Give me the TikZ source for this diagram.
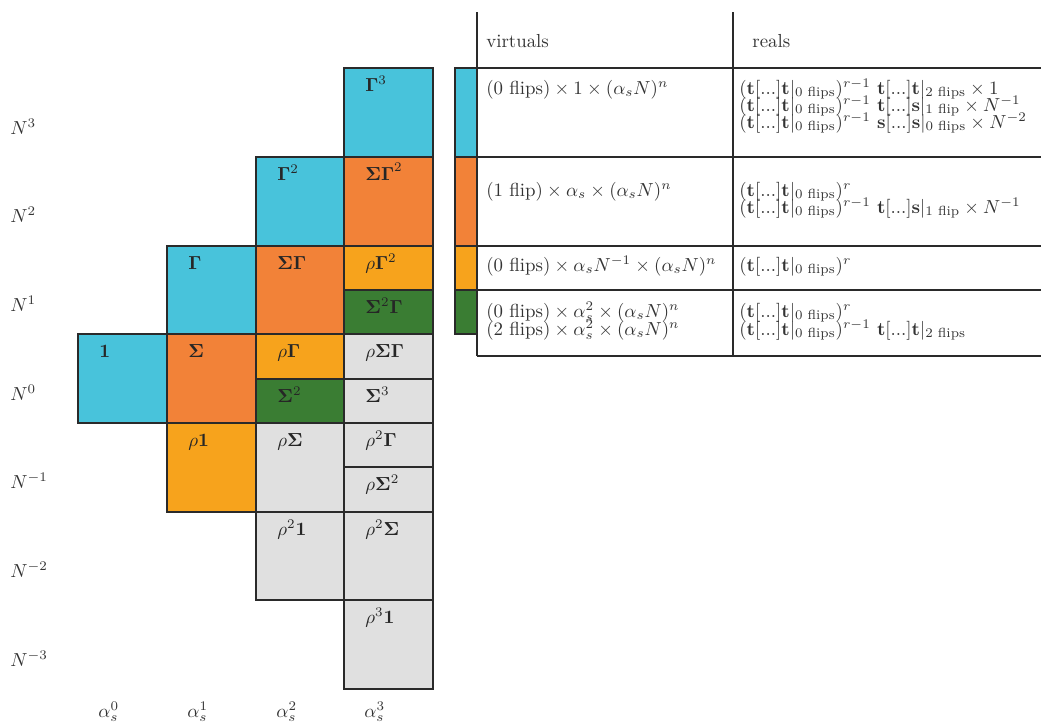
\documentclass[tikz,border=0pt]{standalone}
\usepackage{amsmath}
\definecolor{ccyan}{HTML}{48C3DB}
\definecolor{corange}{HTML}{F28238}
\definecolor{cyellow}{HTML}{F7A31C}
\definecolor{cgreen}{HTML}{3A7D33}
\definecolor{cgray}{HTML}{E0E0E0}
\definecolor{cline}{HTML}{2A2A2A}
\newcommand\TTz{(\mathbf{t}[...]\mathbf{t}|_{0\text{ flips}})}
\newcommand\bt{\mathbf{t}}
\newcommand\bs{\mathbf{s}}
\newcommand\mycell[7]{%
  \draw[cellbox, fill=#5] (#1,#2) rectangle (#3,#4);
  \node[lab] (#7) at ({#1+21},{#2+23}) {$#6$};}
\tikzset{
  cellbox/.style={draw=cline, line width=0.7pt},
  lab/.style={anchor=base west, inner sep=0pt, text=black!85},
  tabline/.style={draw=cline, line width=0.6pt},
  txt/.style={anchor=base west, inner sep=0pt, text=black!80},
}
\begin{document}
\begin{tikzpicture}[x=0.53pt,y=-0.53pt]
\useasboundingbox (0,0) rectangle (1041,722);
% column alpha^0
\mycell{78}{334}{167}{423}{ccyan}{\mathbf{1}}{c01}
% column alpha^1
\mycell{167}{246}{256}{334}{ccyan}{\mathbf{\Gamma}}{c11}
\mycell{167}{334}{256}{423}{corange}{\mathbf{\Sigma}}{c12}
\mycell{167}{423}{256}{512}{cyellow}{\rho\mathbf{1}}{c13}
% column alpha^2
\mycell{256}{157}{344}{246}{ccyan}{\mathbf{\Gamma}^2}{c21}
\mycell{256}{246}{344}{334}{corange}{\mathbf{\Sigma\Gamma}}{c22}
\mycell{256}{334}{344}{379}{cyellow}{\rho\mathbf{\Gamma}}{c23}
\mycell{256}{379}{344}{423}{cgreen}{\mathbf{\Sigma}^2}{c24}
\mycell{256}{423}{344}{512}{cgray}{\rho\mathbf{\Sigma}}{c25}
\mycell{256}{512}{344}{600}{cgray}{\rho^2\mathbf{1}}{c26}
% column alpha^3
\mycell{344}{68}{433}{157}{ccyan}{\mathbf{\Gamma}^3}{c31}
\mycell{344}{157}{433}{246}{corange}{\mathbf{\Sigma\Gamma}^2}{c32}
\mycell{344}{246}{433}{290}{cyellow}{\rho\mathbf{\Gamma}^2}{c33}
\mycell{344}{290}{433}{334}{cgreen}{\mathbf{\Sigma}^2\mathbf{\Gamma}}{c34}
\mycell{344}{334}{433}{379}{cgray}{\rho\mathbf{\Sigma\Gamma}}{c35}
\mycell{344}{379}{433}{423}{cgray}{\mathbf{\Sigma}^3}{c36}
\mycell{344}{423}{433}{467}{cgray}{\rho^2\mathbf{\Gamma}}{c37}
\mycell{344}{467}{433}{512}{cgray}{\rho\mathbf{\Sigma}^2}{c38}
\mycell{344}{512}{433}{600}{cgray}{\rho^2\mathbf{\Sigma}}{c39}
\mycell{344}{600}{433}{689}{cgray}{\rho^3\mathbf{1}}{c3a}
% N labels
\node[txt] (n3) at (10,134) {$N^3$};
\node[txt] (n2) at (10,222.7) {$N^2$};
\node[txt] (n1) at (10,311.4) {$N^1$};
\node[txt] (n0) at (10,400.1) {$N^0$};
\node[txt] (nm1) at (10,488.8) {$N^{-1}$};
\node[txt] (nm2) at (10,577.5) {$N^{-2}$};
\node[txt] (nm3) at (10,666.2) {$N^{-3}$};
% alpha labels
\node[txt] (a0) at (98,717) {$\alpha_s^0$};
\node[txt] (a1) at (187,717) {$\alpha_s^1$};
\node[txt] (a2) at (276,717) {$\alpha_s^2$};
\node[txt] (a3) at (364,717) {$\alpha_s^3$};
% colour bars
\draw[cellbox, fill=ccyan] (455,68) rectangle (477,157);
\draw[cellbox, fill=corange] (455,157) rectangle (477,246);
\draw[cellbox, fill=cyellow] (455,246) rectangle (477,290);
\draw[cellbox, fill=cgreen] (455,290) rectangle (477,334);
% table lines
\draw[tabline] (477,12) -- (477,356);
\draw[tabline] (733,12) -- (733,356);
\draw[tabline] (477,68) -- (1041,68);
\draw[tabline] (477,157) -- (1041,157);
\draw[tabline] (477,246) -- (1041,246);
\draw[tabline] (477,290) -- (1041,290);
\draw[tabline] (477,356) -- (1041,356);
% header
\node[txt] (hv) at (486,48) {virtuals};
\node[txt] (hr) at (752,48) {reals};
% row 1
\node[txt] (v1) at (486,94) {$(0\text{ flips})\times 1\times(\alpha_sN)^n$};
\node[txt] (r1a) at (739,94) {$\TTz^{r-1}\ \bt[...]\bt|_{2\text{ flips}}\times 1$};
\node[txt] (r1b) at (739,111) {$\TTz^{r-1}\ \bt[...]\bs|_{1\text{ flip}}\times N^{-1}$};
\node[txt] (r1c) at (739,128) {$\TTz^{r-1}\ \bs[...]\bs|_{0\text{ flips}}\times N^{-2}$};
% row 2
\node[txt] (v2) at (486,196) {$(1\text{ flip})\times \alpha_s\times(\alpha_sN)^n$};
\node[txt] (r2a) at (739,196) {$\TTz^{r}$};
\node[txt] (r2b) at (739,213) {$\TTz^{r-1}\ \bt[...]\bs|_{1\text{ flip}}\times N^{-1}$};
% row 3
\node[txt] (v3) at (486,271) {$(0\text{ flips})\times \alpha_sN^{-1}\times(\alpha_sN)^n$};
\node[txt] (r3a) at (739,271) {$\TTz^{r}$};
% row 4
\node[txt] (v4a) at (486,317) {$(0\text{ flips})\times \alpha_s^2\times(\alpha_sN)^n$};
\node[txt] (v4b) at (486,335) {$(2\text{ flips})\times \alpha_s^2\times(\alpha_sN)^n$};
\node[txt] (r4a) at (739,317) {$\TTz^{r}$};
\node[txt] (r4b) at (739,335) {$\TTz^{r-1}\ \bt[...]\bt|_{2\text{ flips}}$};
\end{tikzpicture}
\end{document}
